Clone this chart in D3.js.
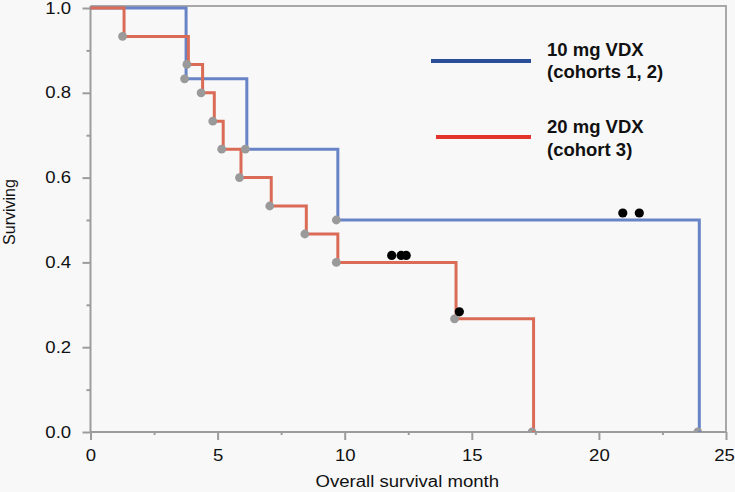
<!DOCTYPE html>
<html>
<head>
<meta charset="utf-8">
<script src="https://cdn.jsdelivr.net/npm/d3@7"></script>
<style>
  html, body { margin: 0; padding: 0; background: #f8f8f8; }
  svg { display: block; }
  text { font-family: "Liberation Sans", Arial, Helvetica, sans-serif; }
</style>
</head>
<body>
<svg id="chart" width="735" height="492"></svg>
<script>
// ---- Data ----
const group10Label = ["10 mg VDX", "(cohorts 1, 2)"];
const group10Times = [0, 3.76, 6.15, 9.73, 23.95];
const group10Surv  = [1.0, 0.833, 0.667, 0.5, 0.0];
const group10CensorTimes = [20.94, 21.59];
const group10CensorSurv  = [0.5, 0.5];

const group20Label = ["20 mg VDX", "(cohort 3)"];
const group20Times = [0, 1.32, 3.85, 4.41, 4.87, 5.22, 5.92, 7.11, 8.49, 9.73, 14.38, 17.43];
const group20Surv  = [1.0, 0.933, 0.867, 0.8, 0.733, 0.667, 0.6, 0.533, 0.467, 0.4, 0.267, 0.0];
const group20CensorTimes = [11.85, 12.22, 12.42, 14.51];
const group20CensorSurv  = [0.4, 0.4, 0.4, 0.267];

const xTicks = [0, 5, 10, 15, 20, 25];
const xMinorTicks = [2.5, 7.5, 12.5, 17.5, 22.5];
const yTicks = [0.0, 0.2, 0.4, 0.6, 0.8, 1.0];
const yMinorTicks = [0.1, 0.3, 0.5, 0.7, 0.9];
const xTitle = "Overall survival month";
const yTitle = "Surviving";

// ---- Layout ----
const svg = d3.select("#chart");
const W = 735, H = 492;
const pLeft = 90.5, pRight = 726, pTop = 8, pBottom = 432;
const stretch = 1.16; // horizontal widening of axis text seen in the reference
const x = d3.scaleLinear().domain([0, 25]).range([pLeft, pRight]);
const y = d3.scaleLinear().domain([0, 1]).range([pBottom, pTop]);

svg.append("rect").attr("width", W).attr("height", H).attr("fill", "#f8f8f8");

const axisColor = "#9c9c9c";

// frame top/right
svg.append("path")
  .attr("d", `M${pLeft},6 H${pRight} V${pBottom}`)
  .attr("fill", "none").attr("stroke", "#a8a8a8").attr("stroke-width", 2);

// Y axis
const yAxis = d3.axisLeft(y).tickValues(yTicks).tickFormat(d3.format(".1f")).tickSize(8).tickPadding(8.7);
const gy = svg.append("g").attr("transform", `translate(${pLeft},0)`).call(yAxis);
gy.select(".domain").attr("stroke", axisColor).attr("stroke-width", 2).attr("d", `M0,6V${pBottom}`);
gy.selectAll(".tick line").attr("stroke", axisColor).attr("stroke-width", 2);
gy.selectAll(".tick text").attr("fill", "#111").style("font-size", "16px")
  .attr("transform", `scale(${stretch},1)`);
const yMinor = d3.axisLeft(y).tickValues(yMinorTicks).tickSize(4).tickFormat("");
const gym = svg.append("g").attr("transform", `translate(${pLeft},0)`).call(yMinor);
gym.select(".domain").remove();
gym.selectAll(".tick line").attr("stroke", axisColor).attr("stroke-width", 2);

// X axis
const xAxis = d3.axisBottom(x).tickValues(xTicks).tickFormat(d3.format("d")).tickSize(8).tickPadding(10);
const gx = svg.append("g").attr("transform", `translate(0,${pBottom})`).call(xAxis);
gx.select(".domain").attr("stroke", axisColor).attr("stroke-width", 2).attr("d", `M${pLeft},0H${pRight}`);
gx.selectAll(".tick line").attr("stroke", axisColor).attr("stroke-width", 2);
gx.selectAll(".tick text").attr("fill", "#111").style("font-size", "16px")
  .attr("transform", (d, i, n) => (i === n.length - 1 ? "translate(-2,0) " : "") + `scale(${stretch},1)`);
const xMinor = d3.axisBottom(x).tickValues(xMinorTicks).tickSize(3).tickFormat("");
const gxm = svg.append("g").attr("transform", `translate(0,${pBottom})`).call(xMinor);
gxm.select(".domain").remove();
gxm.selectAll(".tick line").attr("stroke", axisColor).attr("stroke-width", 2);

// Titles
svg.append("text").attr("transform", `translate(${(pLeft + pRight) / 2 - 1},487) scale(${stretch},1)`)
  .attr("text-anchor", "middle").style("font-size", "16px").attr("fill", "#111").text(xTitle);
svg.append("text").attr("transform", `translate(15,212) rotate(-90)`)
  .attr("text-anchor", "middle").style("font-size", "16px").attr("fill", "#111").text(yTitle);

// clip
svg.append("clipPath").attr("id", "plotclip").append("rect")
  .attr("x", pLeft).attr("y", 0).attr("width", pRight - pLeft + 2).attr("height", pBottom - 1);

const line = d3.line().x(d => x(d[0])).y(d => y(d[1])).curve(d3.curveStepAfter);

function drawCurve(times, surv, color) {
  const pts = times.map((t, i) => [t, surv[i]]);
  svg.append("path").datum(pts).attr("d", line)
    .attr("fill", "none").attr("stroke", color).attr("stroke-width", 3);
}
function drawEvents(times, surv) {
  const pts = times.map((t, i) => [t, surv[i]]).slice(1);
  svg.append("g").attr("clip-path", "url(#plotclip)")
    .selectAll("circle").data(pts).join("circle")
    .attr("cx", d => x(d[0]) - 1.5).attr("cy", d => y(d[1]))
    .attr("r", 4.4).attr("fill", "#9a9a9a");
}
function drawCensors(times, surv) {
  const pts = times.map((t, i) => [t, surv[i]]);
  svg.append("g").selectAll("circle").data(pts).join("circle")
    .attr("cx", d => x(d[0])).attr("cy", d => y(d[1]) - 7)
    .attr("r", 4.6).attr("fill", "#000");
}

const blue = "#6884c6", red = "#da6b56";
drawCurve(group10Times, group10Surv, blue);
drawCurve(group20Times, group20Surv, red);
drawEvents(group10Times, group10Surv);
drawEvents(group20Times, group20Surv);
drawCensors(group10CensorTimes, group10CensorSurv);
drawCensors(group20CensorTimes, group20CensorSurv);

// Legend
const legend = svg.append("g");
legend.append("line").attr("x1", 431).attr("x2", 531).attr("y1", 61).attr("y2", 61)
  .attr("stroke", "#2b4e98").attr("stroke-width", 4);
legend.append("line").attr("x1", 436).attr("x2", 531).attr("y1", 137).attr("y2", 137)
  .attr("stroke", "#e2352c").attr("stroke-width", 4);
const lt1 = legend.append("text").attr("x", 547).attr("y", 56)
  .style("font-size", "18.5px").style("font-weight", "bold").attr("fill", "#111");
lt1.append("tspan").attr("x", 547).attr("dy", 0).text(group10Label[0]);
lt1.append("tspan").attr("x", 547).attr("dy", 22).text(group10Label[1]);
const lt2 = legend.append("text").attr("x", 547).attr("y", 133)
  .style("font-size", "18.5px").style("font-weight", "bold").attr("fill", "#111");
lt2.append("tspan").attr("x", 547).attr("dy", 0).text(group20Label[0]);
lt2.append("tspan").attr("x", 547).attr("dy", 23).text(group20Label[1]);
</script>
</body>
</html>
